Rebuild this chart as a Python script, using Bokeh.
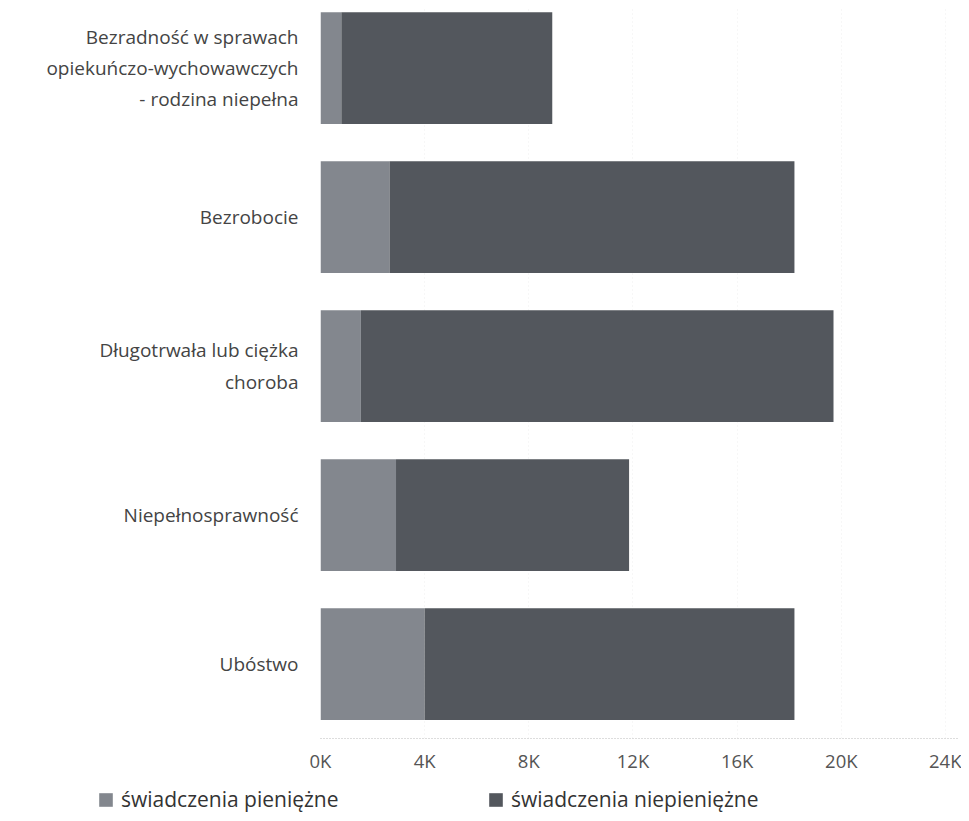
from bokeh.plotting import figure
from bokeh.models import Range1d, FixedTicker, Legend, LegendItem, ColumnDataSource
from bokeh.layouts import column
from bokeh.embed import file_html
from bokeh.resources import INLINE

categories = [
    "Bezradność w sprawach\nopiekuńczo-wychowawczych\n- rodzina niepełna",
    "Bezrobocie",
    "Długotrwała lub ciężka\nchoroba",
    "Niepełnosprawność",
    "Ubóstwo",
]
pieniezne = [800, 2650, 1550, 2900, 4000]
niepieniezne = [8100, 15550, 18150, 8950, 14200]
series_names = ["świadczenia pieniężne", "świadczenia niepieniężne"]
x_ticks = [0, 4000, 8000, 12000, 16000, 20000, 24000]
x_tick_labels = ["0K", "4K", "8K", "12K", "16K", "20K", "24K"]

COL1 = "#83878e"
COL2 = "#53575d"
FONT = "Open Sans"

n = len(categories)
ypos = [n - 1 - i for i in range(n)]
left2 = pieniezne
right2 = [a + b for a, b in zip(pieniezne, niepieniezne)]

src = ColumnDataSource(dict(y=ypos, p=pieniezne, l2=left2, r2=right2))

p = figure(width=961, height=775, output_backend="svg", toolbar_location=None,
           x_range=Range1d(0, 24500), y_range=Range1d(-0.5, 4.4),
           min_border_left=320, min_border_right=3, min_border_top=8,
           min_border_bottom=37)
p.outline_line_color = None
p.frame_align = False

r1 = p.hbar(y="y", left=0, right="p", height=0.75, source=src,
            fill_color=COL1, line_color=None)
r2 = p.hbar(y="y", left="l2", right="r2", height=0.75, source=src,
            fill_color=COL2, line_color=None)

p.xaxis.ticker = FixedTicker(ticks=x_ticks)
p.xaxis.major_label_overrides = {t: l for t, l in zip(x_ticks, x_tick_labels)}
p.xaxis.axis_line_color = "#bbbbbb"
p.xaxis.axis_line_dash = "1 2"
p.xaxis.major_tick_line_color = None
p.xaxis.minor_tick_line_color = None
p.xaxis.major_label_text_font = FONT
p.xaxis.major_label_text_font_size = "18.5px"
p.xaxis.major_label_text_color = "#555555"
p.xaxis.major_label_standoff = 3

p.yaxis.ticker = FixedTicker(ticks=ypos)
p.yaxis.major_label_overrides = {y: c for y, c in zip(ypos, categories)}
p.yaxis.axis_line_color = None
p.yaxis.major_tick_line_color = None
p.yaxis.minor_tick_line_color = None
p.yaxis.major_label_text_font = FONT
p.yaxis.major_label_text_font_size = "19px"
p.yaxis.major_label_text_color = "#444444"
p.yaxis.major_label_standoff = 16

p.xgrid.ticker = FixedTicker(ticks=x_ticks)
p.xgrid.grid_line_color = "#eeeeee"
p.xgrid.grid_line_dash = "1 3"
p.ygrid.grid_line_color = None

# legend strip below the chart (its bars lie outside its visible range)
lg = figure(width=961, height=38, output_backend="svg", toolbar_location=None,
            x_range=Range1d(0, 24500), y_range=Range1d(100, 101),
            min_border_left=0, min_border_right=0, min_border_top=0,
            min_border_bottom=0)
lg.frame_align = False
lg.axis.visible = False
lg.grid.visible = False
lg.outline_line_color = None
lr1 = lg.hbar(y="y", left=0, right="p", height=0.75, source=src,
              fill_color=COL1, line_color=None)
lr2 = lg.hbar(y="y", left="l2", right="r2", height=0.75, source=src,
              fill_color=COL2, line_color=None)

legend = Legend(items=[LegendItem(label=series_names[0], renderers=[lr1]),
                       LegendItem(label=series_names[1], renderers=[lr2])],
                orientation="horizontal", location=(97, 0),
                glyph_width=17, glyph_height=17, label_standoff=7,
                label_width=366, spacing=0, padding=0, margin=0,
                border_line_color=None, background_fill_alpha=0,
                label_text_font=FONT, label_text_font_size="21px",
                label_text_color="#333333")
lg.add_layout(legend, "center")

layout = column(p, lg, spacing=0)
open("out.html", "w").write(file_html(layout, INLINE))
